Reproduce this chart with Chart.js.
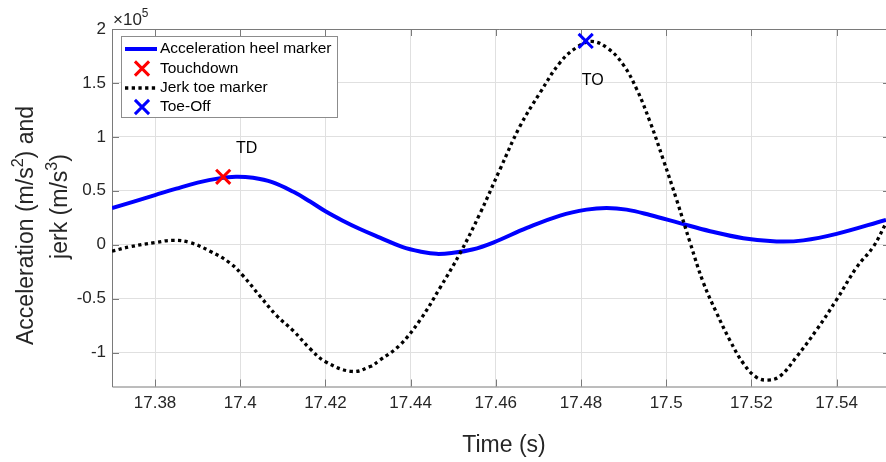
<!DOCTYPE html>
<html>
<head>
<meta charset="utf-8">
<script src="https://cdn.jsdelivr.net/npm/chart.js@4/dist/chart.umd.min.js"></script>
<style>
  html, body { margin: 0; padding: 0; background: #fff; overflow: hidden; }
  #wrap { width: 886px; height: 462px; }
</style>
</head>
<body>
<div id="wrap"><canvas id="c" width="886" height="462"></canvas></div>
<script>
/* ================== DATA (values in units of 1e5) ================== */
const X_MIN = 17.3699;
const X_MAX = 17.5516;
const Y_MIN = -1.315;
const Y_MAX = 2;

const X_TICKS = [17.38, 17.4, 17.42, 17.44, 17.46, 17.48, 17.5, 17.52, 17.54];
const X_TICK_LABELS = ["17.38", "17.4", "17.42", "17.44", "17.46", "17.48", "17.5", "17.52", "17.54"];
const Y_TICKS = [-1, -0.5, 0, 0.5, 1, 1.5, 2];
const Y_TICK_LABELS = ["-1", "-0.5", "0", "0.5", "1", "1.5", "2"];

// acceleration heel marker
const ACC_T = [17.3699, 17.375, 17.38, 17.385, 17.39, 17.395, 17.399, 17.403, 17.4075, 17.4125,
  17.4164, 17.42, 17.4242, 17.4281, 17.4328, 17.438, 17.4425, 17.4461, 17.45, 17.4545,
  17.4594, 17.4673, 17.4751, 17.4813, 17.486, 17.4907, 17.4962, 17.5032, 17.5103, 17.5181,
  17.5259, 17.5322, 17.54, 17.5516];
const ACC_Y = [0.34, 0.4, 0.46, 0.52, 0.575, 0.615, 0.63, 0.62, 0.58, 0.49,
  0.4, 0.31, 0.22, 0.145, 0.065, -0.02, -0.065, -0.085, -0.075, -0.045,
  0.02, 0.155, 0.27, 0.325, 0.34, 0.325, 0.275, 0.2, 0.125, 0.06,
  0.03, 0.04, 0.1, 0.23];

// jerk toe marker
const JERK_T = [17.3699, 17.3741, 17.38, 17.3843, 17.3882, 17.3929, 17.3976, 17.4007, 17.4047, 17.4086,
  17.4125, 17.4164, 17.42, 17.4262, 17.4305, 17.4328, 17.4375, 17.4422, 17.4469, 17.4516,
  17.4563, 17.461, 17.4657, 17.4704, 17.4751, 17.479, 17.4825, 17.4863, 17.4899, 17.4931,
  17.4962, 17.4993, 17.5025, 17.5056, 17.5087, 17.5118, 17.515, 17.5181, 17.5212, 17.5239,
  17.5267, 17.5306, 17.5353, 17.54, 17.5447, 17.5486, 17.5516];
const JERK_Y = [-0.06, -0.02, 0.02, 0.04, 0.02, -0.06, -0.17, -0.29, -0.48, -0.66,
  -0.8, -0.965, -1.085, -1.175, -1.13, -1.07, -0.93, -0.7, -0.4, -0.08,
  0.29, 0.7, 1.1, 1.41, 1.69, 1.83, 1.885, 1.82, 1.67, 1.44,
  1.14, 0.79, 0.41, 0.02, -0.35, -0.63, -0.89, -1.1, -1.23, -1.255,
  -1.22, -1.04, -0.79, -0.51, -0.21, -0.02, 0.2];

const TD_T = [17.396];
const TD_Y = [0.629];
const TO_T = [17.4811];
const TO_Y = [1.889];

const NOTE_TEXT = ["TD", "TO"];
const NOTE_T = [17.399, 17.4802];
const NOTE_Y = [0.892, 1.518];

const LEGEND_LABELS = ["Acceleration heel marker", "Touchdown", "Jerk toe marker", "Toe-Off"];

/* ================== STYLE ================== */
const FONT = "'Liberation Sans', Arial, Helvetica, sans-serif";
const AXIS_TEXT = "#262626";
const FRAME = "#7a7a7a";
const GRID = "#e0e0e0";
const TICK_IN = 7;
const DOT_DASH = [3.3, 3.4];

const toPoints = (xs, ys) => xs.map((x, i) => ({ x, y: ys[i] }));

/* ================== HELPERS ================== */
// draw a run of text pieces, some of them superscript, from (x, y) baseline
function drawRich(ctx, parts, size, x, y, align) {
  const supSize = size * 0.7;
  const w = parts.reduce((s, p) => {
    ctx.font = `${p.sup ? supSize : size}px ${FONT}`;
    return s + ctx.measureText(p.t).width;
  }, 0);
  let cx = align === "center" ? x - w / 2 : x;
  ctx.textAlign = "left";
  ctx.textBaseline = "alphabetic";
  for (const p of parts) {
    ctx.font = `${p.sup ? supSize : size}px ${FONT}`;
    ctx.fillText(p.t, cx, p.sup ? y - size * 0.45 : y);
    cx += ctx.measureText(p.t).width;
  }
}

function drawCross(ctx, x, y, r, color, lw) {
  const d = r * Math.SQRT1_2;
  ctx.save();
  ctx.strokeStyle = color;
  ctx.lineWidth = lw;
  ctx.beginPath();
  ctx.moveTo(x - d, y - d); ctx.lineTo(x + d, y + d);
  ctx.moveTo(x - d, y + d); ctx.lineTo(x + d, y - d);
  ctx.stroke();
  ctx.restore();
}

/* ================== PLUGIN: frame, ticks, labels, legend ================== */
const matlabAxes = {
  id: "matlabAxes",
  beforeDatasetsDraw(chart) {
    const { ctx, chartArea: a, scales } = chart;
    // right edge of the box sits just past the picture
    const rightEdge = a.right + 4;
    ctx.save();
    ctx.strokeStyle = FRAME;
    ctx.lineWidth = 1;
    ctx.beginPath();
    ctx.moveTo(rightEdge, a.top + 0.5);
    ctx.lineTo(a.left + 0.5, a.top + 0.5);
    ctx.lineTo(a.left + 0.5, a.bottom + 0.5);
    ctx.lineTo(rightEdge, a.bottom + 0.5);
    for (const v of X_TICKS) {
      const px = Math.round(scales.x.getPixelForValue(v)) + 0.5;
      ctx.moveTo(px, a.bottom); ctx.lineTo(px, a.bottom - TICK_IN);
      ctx.moveTo(px, a.top); ctx.lineTo(px, a.top + TICK_IN);
    }
    for (const v of Y_TICKS) {
      const py = Math.round(scales.y.getPixelForValue(v)) + 0.5;
      ctx.moveTo(a.left, py); ctx.lineTo(a.left + TICK_IN, py);
      ctx.moveTo(rightEdge, py); ctx.lineTo(rightEdge - TICK_IN, py);
    }
    ctx.stroke();
    ctx.restore();
  },
  afterDatasetsDraw(chart) {
    const { ctx, scales } = chart;
    ctx.save();

    // text notes
    ctx.fillStyle = "#000";
    ctx.font = `16px ${FONT}`;
    ctx.textAlign = "left";
    ctx.textBaseline = "middle";
    NOTE_TEXT.forEach((t, i) => {
      ctx.fillText(t, scales.x.getPixelForValue(NOTE_T[i]), scales.y.getPixelForValue(NOTE_Y[i]));
    });

    // x10^5 exponent
    ctx.fillStyle = AXIS_TEXT;
    drawRich(ctx, [{ t: "\u00d710" }, { t: "5", sup: true }], 17, 113, 24.5, "left");

    // axis titles
    drawRich(ctx, [{ t: "Time (s)" }], 23, 504, 452, "center");
    ctx.save();
    ctx.translate(33, 345);
    ctx.rotate(-Math.PI / 2);
    drawRich(ctx, [{ t: "Acceleration (m/s" }, { t: "2", sup: true }, { t: ") and" }], 23, 0, 0, "left");
    ctx.restore();
    ctx.save();
    ctx.translate(67, 206.5);
    ctx.rotate(-Math.PI / 2);
    drawRich(ctx, [{ t: "jerk (m/s" }, { t: "3", sup: true }, { t: ")" }], 23, 0, 0, "center");
    ctx.restore();

    // legend
    ctx.fillStyle = "#fff";
    ctx.fillRect(121, 36, 216, 82);
    ctx.strokeStyle = "#8c8c8c";
    ctx.lineWidth = 1;
    ctx.strokeRect(121.5, 36.5, 216, 81);
    const rows = [49, 68.5, 88, 107];
    chart.data.datasets.forEach((ds, i) => {
      const y = rows[i];
      if (ds.showLine === false) {
        drawCross(ctx, 142, y, ds.pointRadius, ds.pointBorderColor, ds.pointBorderWidth);
      } else {
        ctx.save();
        ctx.strokeStyle = ds.borderColor;
        ctx.lineWidth = ds.borderWidth;
        ctx.setLineDash(ds.borderDash || []);
        ctx.beginPath();
        ctx.moveTo(125, y); ctx.lineTo(157, y);
        ctx.stroke();
        ctx.restore();
      }
      ctx.fillStyle = "#000";
      ctx.font = `15.5px ${FONT}`;
      ctx.textAlign = "left";
      ctx.textBaseline = "middle";
      ctx.fillText(LEGEND_LABELS[i], 160, y);
    });
    ctx.restore();
  },
};

/* ================== CHART ================== */
new Chart(document.getElementById("c"), {
  type: "line",
  data: {
    datasets: [
      {
        label: LEGEND_LABELS[0],
        data: toPoints(ACC_T, ACC_Y),
        borderColor: "#0000ff",
        borderWidth: 4,
        pointRadius: 0,
        tension: 0.4,
        order: 2,
      },
      {
        label: LEGEND_LABELS[1],
        data: toPoints(TD_T, TD_Y),
        showLine: false,
        pointStyle: "crossRot",
        pointRadius: 10,
        pointBorderWidth: 3,
        pointBorderColor: "#ff0000",
        order: 0,
      },
      {
        label: LEGEND_LABELS[2],
        data: toPoints(JERK_T, JERK_Y),
        borderColor: "#000",
        borderWidth: 3.3,
        borderDash: DOT_DASH,
        borderCapStyle: "butt",
        pointRadius: 0,
        tension: 0.4,
        order: 1,
      },
      {
        label: LEGEND_LABELS[3],
        data: toPoints(TO_T, TO_Y),
        showLine: false,
        pointStyle: "crossRot",
        pointRadius: 10,
        pointBorderWidth: 3,
        pointBorderColor: "#0000ff",
        order: 0,
      },
    ],
  },
  options: {
    responsive: false,
    animation: false,
    layout: { autoPadding: false, padding: { top: 29, left: 0, right: 0, bottom: 0 } },
    plugins: { legend: { display: false }, tooltip: { enabled: false } },
    scales: {
      x: {
        type: "linear",
        min: X_MIN,
        max: X_MAX,
        afterBuildTicks: (s) => { s.ticks = X_TICKS.map((v) => ({ value: v })); },
        afterFit: (s) => {
          s.height = 75.5;
          s.paddingLeft = 0;
          s.paddingRight = 0;
        },
        ticks: {
          callback: (v, i) => X_TICK_LABELS[i],
          autoSkip: false,
          maxRotation: 0,
          padding: 7,
          color: AXIS_TEXT,
          font: { family: FONT, size: 17 },
        },
        grid: { color: GRID, drawTicks: false },
        border: { display: false },
      },
      y: {
        min: Y_MIN,
        max: Y_MAX,
        afterBuildTicks: (s) => { s.ticks = Y_TICKS.map((v) => ({ value: v })); },
        afterFit: (s) => {
          s.width = 112;
          s.paddingTop = 0;
          s.paddingBottom = 0;
        },
        ticks: {
          callback: (v, i) => Y_TICK_LABELS[i],
          padding: 6,
          color: AXIS_TEXT,
          font: { family: FONT, size: 17 },
        },
        grid: { color: GRID, drawTicks: false },
        border: { display: false },
      },
    },
  },
  plugins: [matlabAxes],
});
</script>
</body>
</html>
